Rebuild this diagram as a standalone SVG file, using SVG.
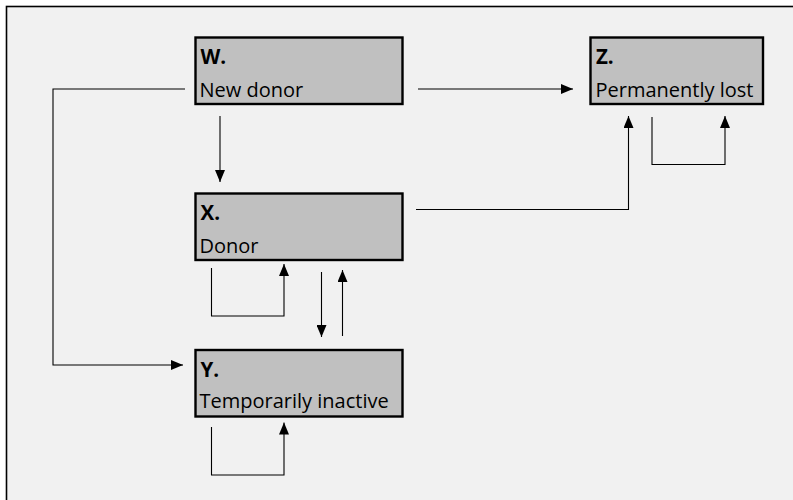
<svg xmlns="http://www.w3.org/2000/svg" width="793" height="500" viewBox="0 0 793 500">
<defs>
<style>
.box{fill:#c0c0c0;stroke:#000;stroke-width:2.4}
.t{font-family:"Open Sans","Noto Sans",sans-serif;font-size:20px;fill:#000}
.b{font-weight:bold;font-size:20.5px}
.c{fill:none;stroke:#000;stroke-width:1.1}
</style>
<marker id="ah" viewBox="0 0 12 10" refX="12" refY="5" markerWidth="12" markerHeight="10" markerUnits="userSpaceOnUse" orient="auto">
<path d="M0,0 L12,5 L0,10 Z" fill="#000"/>
</marker>
</defs>
<rect x="0" y="0" width="793" height="500" fill="#ffffff"/>
<rect x="6.5" y="6.5" width="800" height="510" fill="#f1f1f1" stroke="#000" stroke-width="1.6"/>
<g id="connectors">
<path class="c" d="M185,89 H53 V365 H183" marker-end="url(#ah)"/>
<path class="c" d="M220,116 V182" marker-end="url(#ah)"/>
<path class="c" d="M418,89 H573" marker-end="url(#ah)"/>
<path class="c" d="M416,209.5 H628.5 V116" marker-end="url(#ah)"/>
<path class="c" d="M652,117 V164.5 H725 V116" marker-end="url(#ah)"/>
<path class="c" d="M211.5,268 V316 H284 V264" marker-end="url(#ah)"/>
<path class="c" d="M321.5,272 V337" marker-end="url(#ah)"/>
<path class="c" d="M342.5,336 V270" marker-end="url(#ah)"/>
<path class="c" d="M211.5,427 V475 H284 V422.5" marker-end="url(#ah)"/>
</g>
<g id="W">
<rect class="box" x="195.5" y="37.5" width="207" height="66.5"/>
<text class="t b" x="200.5" y="64">W.</text>
<text class="t" x="199.5" y="96.5">New donor</text>
</g>
<g id="X">
<rect class="box" x="195.5" y="193.5" width="207" height="66.5"/>
<text class="t b" x="200.5" y="220">X.</text>
<text class="t" x="199.5" y="252.5">Donor</text>
</g>
<g id="Y">
<rect class="box" x="195.5" y="350" width="207" height="66.5"/>
<text class="t b" x="200.5" y="376.5">Y.</text>
<text class="t" x="199.5" y="408">Temporarily inactive</text>
</g>
<g id="Z">
<rect class="box" x="590.5" y="37.5" width="172.5" height="66.5"/>
<text class="t b" x="596" y="64">Z.</text>
<text class="t" x="595.5" y="96.5">Permanently lost</text>
</g>
</svg>
